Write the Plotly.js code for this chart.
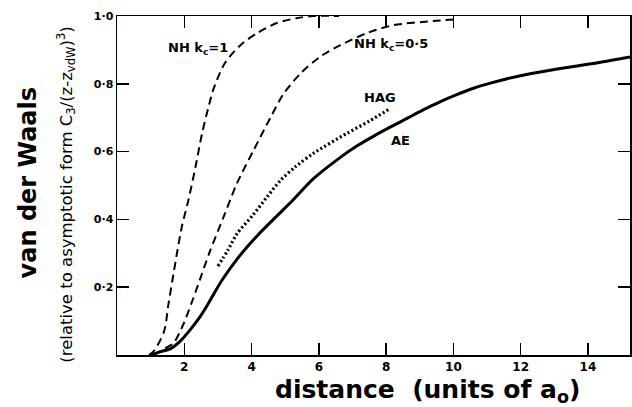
<!DOCTYPE html>
<html><head><meta charset="utf-8">
<script src="https://cdn.plot.ly/plotly-3.0.1.min.js"></script>
<style>html,body{margin:0;padding:0;background:#fff}#c{width:632px;height:407px}</style>
</head><body><div id="c"></div>
<script>
// AE (solid)
var aeX = [1.0, 1.3, 1.58, 1.88, 2.18, 2.45, 2.68, 2.9, 3.13, 3.57, 4.17, 4.65, 5.24, 5.84, 6.64, 7.14, 7.62, 8.12, 8.62, 9.1, 9.6, 10.1, 10.6, 11.1, 11.6, 12.1, 12.58, 13.37, 14.3, 15.25];
var aeY = [0.0, 0.01, 0.018, 0.041, 0.075, 0.11, 0.146, 0.184, 0.222, 0.283, 0.352, 0.40, 0.458, 0.52, 0.583, 0.617, 0.645, 0.672, 0.698, 0.723, 0.747, 0.768, 0.787, 0.802, 0.815, 0.826, 0.835, 0.848, 0.862, 0.879];
// NH kc=1 (dashed)
var nh1X = [0.95, 1.1, 1.4, 1.53, 1.68, 1.8, 1.93, 2.12, 2.33, 2.53, 2.77, 2.87, 3.2, 3.67, 4.17, 4.77, 5.36, 5.84, 6.6];
var nh1Y = [0.0, 0.012, 0.07, 0.15, 0.24, 0.31, 0.38, 0.456, 0.553, 0.654, 0.751, 0.785, 0.86, 0.914, 0.95, 0.98, 0.994, 1.0, 1.0];
// NH kc=0.5 (dashed)
var nh05X = [1.1, 1.44, 1.68, 1.97, 2.24, 2.42, 2.77, 3.16, 3.56, 4.06, 4.56, 4.95, 5.45, 6.04, 6.64, 7.44, 8.22, 9.4, 10.06];
var nh05Y = [0.0, 0.02, 0.035, 0.09, 0.16, 0.21, 0.308, 0.405, 0.505, 0.604, 0.70, 0.77, 0.83, 0.88, 0.914, 0.95, 0.973, 0.985, 0.99];
// HAG (dotted)
var hagX = [3.0, 3.3, 3.57, 4.06, 4.45, 4.86, 5.3, 5.84, 6.84, 7.5, 8.12];
var hagY = [0.262, 0.31, 0.358, 0.415, 0.465, 0.515, 0.555, 0.595, 0.654, 0.69, 0.727];

var xTicks = [2, 4, 6, 8, 10, 12, 14];
var xTickText = ['2', '4', '6', '8', '10', '12', '14'];
var yTicks = [0.2, 0.4, 0.6, 0.8, 1.0];
var yTickText = ['0·2', '0·4', '0·6', '0·8', '1·0'];

var BOLD = 'DejaVu Sans, sans-serif';
var SMOOTH = 0.8;

var traces = [
  {x: aeX, y: aeY, mode: 'lines', line: {color: '#000', width: 3, shape: 'spline', smoothing: SMOOTH}},
  {x: nh1X, y: nh1Y, mode: 'lines', line: {color: '#000', width: 2, dash: '8px,5px', shape: 'spline', smoothing: SMOOTH}},
  {x: nh05X, y: nh05Y, mode: 'lines', line: {color: '#000', width: 2, dash: '8px,5px', shape: 'spline', smoothing: SMOOTH}},
  {x: hagX, y: hagY, mode: 'lines', line: {color: '#000', width: 3.2, dash: '2px,2.5px', shape: 'spline', smoothing: SMOOTH}}
];

var axisCommon = {
  showgrid: false, zeroline: false, showline: true, linecolor: '#000', linewidth: 1.5,
  mirror: 'ticks', ticks: 'inside', ticklen: 12, tickwidth: 1.5, tickcolor: '#000'
};

var lab = function (x, y, t) {
  return {xref: 'x', yref: 'y', x: x, y: y, text: t, showarrow: false, xanchor: 'center', yanchor: 'middle',
          font: {family: BOLD, size: 13, color: '#000', weight: 'bold'}};
};

var layout = {
  width: 632, height: 407,
  margin: {l: 117, r: 2, t: 16, b: 52},
  paper_bgcolor: '#fff', plot_bgcolor: '#fff',
  showlegend: false,
  xaxis: Object.assign({}, axisCommon, {range: [0, 15.25], tickmode: 'array', tickvals: xTicks, ticktext: xTickText,
    tickfont: {family: BOLD, size: 12, color: '#000', weight: 'bold'}}),
  yaxis: Object.assign({}, axisCommon, {range: [0, 1], tickmode: 'array', tickvals: yTicks, ticktext: yTickText,
    tickfont: {family: BOLD, size: 11, color: '#000', weight: 'bold'}}),
  annotations: [
    lab(2.42, 0.905, 'NH k<sub>c</sub>=1'),
    lab(8.15, 0.915, 'NH k<sub>c</sub>=0·5'),
    lab(7.83, 0.76, 'HAG'),
    lab(8.42, 0.633, 'AE'),
    {xref: 'paper', yref: 'paper', x: 0.605, y: -0.107, xanchor: 'center', yanchor: 'middle',
     text: 'distance&nbsp;&nbsp;(units of a<sub>o</sub>)', showarrow: false,
     font: {family: BOLD, size: 25, color: '#000', weight: 'bold'}},
    {xref: 'paper', yref: 'paper', x: -0.173, y: 0.507, xanchor: 'center', yanchor: 'middle',
     text: 'van der Waals', textangle: -90, showarrow: false,
     font: {family: BOLD, size: 24, color: '#000', weight: 'bold'}},
    {xref: 'paper', yref: 'paper', x: -0.1, y: 0.472, xanchor: 'center', yanchor: 'middle',
     text: '(relative to asymptotic form C<sub>3</sub>/(z-z<sub>vdW</sub>)<sup>3</sup>)', textangle: -90, showarrow: false,
     font: {family: 'DejaVu Sans, sans-serif', size: 16.5, color: '#000'}}
  ]
};

Plotly.newPlot('c', traces, layout, {displayModeBar: false, staticPlot: true});
</script>
</body></html>
